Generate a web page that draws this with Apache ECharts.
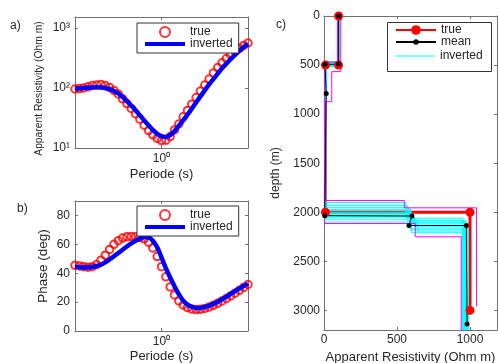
<!DOCTYPE html>
<html>
<head>
<meta charset="utf-8">
<script src="https://cdn.jsdelivr.net/npm/echarts@6/dist/echarts.min.js"></script>
<style>
html, body { margin: 0; padding: 0; background: #fff; }
#chart { width: 498px; height: 363px; }
</style>
</head>
<body>
<div id="chart"></div>
<script>
/* MT sounding: apparent resistivity, phase and the 1D models */

// periods, as log10 of seconds
var logPeriod = [-1.00, -0.95, -0.90, -0.85, -0.80, -0.75, -0.70, -0.65, -0.60, -0.55,
                 -0.50, -0.45, -0.40, -0.35, -0.30, -0.25, -0.20, -0.15, -0.10, -0.05,
                  0.00,  0.05,  0.10,  0.15,  0.20,  0.25,  0.30,  0.35,  0.40,  0.45,
                  0.50,  0.55,  0.60,  0.65,  0.70,  0.75,  0.80,  0.85,  0.90,  0.95, 1.00];

// apparent resistivity (Ohm m)
var rhoTrue = [96.2, 97.7, 100, 104.7, 109.6, 112.2, 114.8, 109.6, 102.3, 91.2,
               79.4, 66.1, 55.0, 45.7, 37.2, 30.2, 24.0, 19.5, 16.6, 14.5,
               13.3, 13.5, 15.5, 20.0, 25.1, 33.1, 42.2, 53.7, 69.2, 89.1,
               112, 141, 178, 219, 263, 309, 355, 407, 457, 513, 562];
var rhoInv = [97.7, 98.9, 100, 101, 102, 103, 102, 100, 95.5, 89.1,
              81.3, 70.8, 60.3, 50.7, 42.7, 35.1, 28.8, 24.0, 20.0, 17.2,
              15.7, 15.3, 16.4, 19.1, 23.4, 28.8, 35.9, 45.2, 57.5, 72.4,
              91.2, 115, 141, 174, 214, 254, 302, 355, 417, 479, 543];

// phase (deg)
var phaseTrue = [45.5, 45.0, 44.5, 44.2, 44.5, 46.0, 49.0, 52.5, 56.5, 60.0,
                 62.5, 64.3, 65.2, 65.5, 65.3, 64.8, 63.8, 61.5, 57.5, 51.5,
                 44.5, 37.5, 30.5, 25.0, 20.8, 18.0, 16.2, 15.2, 14.8, 15.0,
                 15.6, 16.6, 17.8, 19.2, 20.8, 22.5, 24.3, 26.2, 28.2, 30.2, 32.2];
var phaseInv = [44.5, 44.2, 44.0, 44.0, 44.3, 45.0, 46.0, 47.5, 49.5, 51.7,
                54.0, 56.3, 58.5, 60.6, 62.5, 64.0, 65.0, 64.8, 62.5, 58.0,
                51.0, 43.5, 37.0, 31.0, 25.5, 21.0, 18.3, 16.8, 16.0, 16.0,
                16.6, 17.6, 18.8, 20.3, 22.0, 23.8, 25.7, 27.6, 29.5, 31.2, 32.8];

// layered models: resistivity of each layer, depth of each interface (m)
var trueRho = [100, 10, 1000];
var trueDepth = [500, 2000];
var trueBottom = 3000;

var meanRho = [100, 100, 7, 15, 5, 602, 582, 975, 980];
var meanDepth = [0, 490, 495, 790, 2035, 2038, 2135, 2135, 3140];

var invRho = [
    [100, 12, 8, 600, 970],
    [98, 6, 10, 580, 960],
    [104, 15, 5, 620, 985],
    [96, 9, 12, 560, 950],
    [102, 4, 7, 640, 975],
    [100, 18, 9, 610, 965],
    [95, 8, 6, 590, 990],
    [105, 11, 14, 630, 955],
    [99, 5, 11, 570, 980],
    [101, 13, 4, 600, 945],
    [97, 7, 10, 615, 970],
    [103, 10, 8, 595, 960]
];
var invDepth = [
    [480, 780, 2000, 2100],
    [470, 800, 1950, 2080],
    [510, 760, 2050, 2150],
    [495, 820, 1900, 2060],
    [505, 740, 2100, 2200],
    [475, 850, 2020, 2120],
    [500, 700, 1980, 2170],
    [485, 830, 2070, 2140],
    [515, 790, 1930, 2090],
    [465, 810, 2010, 2210],
    [490, 770, 2040, 2110],
    [500, 860, 1970, 2180]
];
var invBottom = 3200;

var boundRho = [[115, 53, 12, 550, 1045], [92, 3, 625, 940]];
var boundDepth = [[567, 873, 1880, 1955], [470, 2115, 2250]];
var boundBottom = [2960, 3200];

var FONT = 'Liberation Sans';
var TXT = '#262626';
var AX = '#707070';
var SUP = {'0': '\u2070', '1': '\u00b9', '2': '\u00b2', '3': '\u00b3'};

function pairs(xs, ys, fy) {
    var out = [];
    for (var i = 0; i < xs.length; i++) {
        out.push([xs[i], fy ? fy(ys[i]) : ys[i]]);
    }
    return out;
}

function stepPath(rho, depth, bottom) {
    var pts = [[rho[0], 0]];
    for (var i = 0; i < depth.length; i++) {
        pts.push([rho[i], depth[i]]);
        pts.push([rho[i + 1], depth[i]]);
    }
    pts.push([rho[rho.length - 1], bottom]);
    return pts;
}

function powLabel(v) {
    if (Math.abs(v - Math.round(v)) > 1e-6) return '';
    return '10' + SUP[String(Math.round(v))];
}

function nameStyle(size, pad) {
    var s = { color: TXT, fontFamily: FONT, fontSize: size };
    if (pad) s.padding = pad;
    return s;
}

function mainAxis(gi, pos, o) {
    var a = {
        type: 'value', gridIndex: gi, position: pos,
        axisLine: { show: true, onZero: false, lineStyle: { color: AX, width: 1 } },
        axisTick: { show: true, inside: true, length: 3, lineStyle: { color: AX } },
        splitLine: { show: false },
        axisLabel: { color: TXT, fontFamily: FONT, fontSize: 12, margin: 5 },
        nameTextStyle: nameStyle(12),
        nameLocation: 'middle'
    };
    for (var k in o) a[k] = o[k];
    return a;
}

function boxAxis(gi, pos, o) {
    var a = mainAxis(gi, pos, o);
    a.axisLabel = { show: false };
    a.name = '';
    return a;
}

function lbl(margin, fmt) {
    return { color: TXT, fontFamily: FONT, fontSize: 12, margin: margin, formatter: fmt };
}

var chart = echarts.init(document.getElementById('chart'));

var periodFmt = function (v) { return Math.abs(v) < 1e-6 ? '10' + SUP['0'] : ''; };
var xa = { min: -1, max: 1, interval: 1, axisLabel: lbl(5, periodFmt) };
var xb = { min: -1, max: 1, interval: 1, axisLabel: lbl(5, periodFmt) };
var ya = { min: 1, max: 3.183, interval: 1, axisLabel: lbl(5, powLabel) };
var yb = { min: 0, max: 90, interval: 20, axisLabel: lbl(5, function (v) { return v % 20 === 0 ? String(v) : ''; }) };
var xc = { min: 0, max: 1185, interval: 500, axisLabel: lbl(4, function (v) { return v % 500 === 0 ? String(v) : ''; }) };
var yc = { min: 0, max: 3200, interval: 500, inverse: true, axisLabel: lbl(4, function (v) { return v % 500 === 0 ? String(v) : ''; }) };

function legend(o) {
    var l = {
        orient: 'vertical', selectedMode: false,
        itemWidth: 40, itemHeight: 10, itemGap: 0,
        padding: [3, 6, 3, 8],
        borderColor: '#333', borderWidth: 1, backgroundColor: '#fff',
        textStyle: { color: TXT, fontFamily: FONT, fontSize: 12 },
        formatter: function (n) { return n.trim(); }
    };
    for (var k in o) l[k] = o[k];
    return l;
}

var series = [];
function log10(v) { return Math.log10(v); }

// panel a
series.push({ name: 'true', type: 'scatter', xAxisIndex: 0, yAxisIndex: 0, data: pairs(logPeriod, rhoTrue, log10),
    symbol: 'circle', symbolSize: 7.5, itemStyle: { color: 'rgba(0,0,0,0)', borderColor: '#ff0000', borderWidth: 2 } });
series.push({ name: 'inverted', type: 'line', xAxisIndex: 0, yAxisIndex: 0, data: pairs(logPeriod, rhoInv, log10),
    symbol: 'none', smooth: 0.3, lineStyle: { color: '#0000ff', width: 4.5 }, itemStyle: { color: '#0000ff' } });
// panel b
series.push({ name: 'true', type: 'scatter', xAxisIndex: 1, yAxisIndex: 1, data: pairs(logPeriod, phaseTrue),
    symbol: 'circle', symbolSize: 7.5, itemStyle: { color: 'rgba(0,0,0,0)', borderColor: '#ff0000', borderWidth: 2 } });
series.push({ name: 'inverted', type: 'line', xAxisIndex: 1, yAxisIndex: 1, data: pairs(logPeriod, phaseInv),
    symbol: 'none', smooth: 0.3, lineStyle: { color: '#0000ff', width: 4.5 }, itemStyle: { color: '#0000ff' } });
// panel c
series.push({ name: 'true ', type: 'line', xAxisIndex: 2, yAxisIndex: 2, data: stepPath(trueRho, trueDepth, trueBottom),
    symbol: 'circle', symbolSize: 9, showSymbol: true, lineStyle: { color: '#ff0000', width: 3 }, itemStyle: { color: '#ff0000' } });
for (var i = 0; i < invRho.length; i++) {
    series.push({ name: 'inverted ', type: 'line', xAxisIndex: 2, yAxisIndex: 2, data: stepPath(invRho[i], invDepth[i], invBottom),
        symbol: 'none', lineStyle: { color: '#00ffff', width: 1 }, itemStyle: { color: '#00ffff' } });
}
for (var b = 0; b < boundRho.length; b++) {
    series.push({ name: 'bound', type: 'line', xAxisIndex: 2, yAxisIndex: 2, data: stepPath(boundRho[b], boundDepth[b], boundBottom[b]),
        symbol: 'none', lineStyle: { color: '#ff00ff', width: 1 } });
}
series.push({ name: 'mean', type: 'line', xAxisIndex: 2, yAxisIndex: 2, data: pairs(meanRho, meanDepth),
    symbol: 'circle', symbolSize: 5, showSymbol: true, lineStyle: { color: '#000000', width: 1 }, itemStyle: { color: '#000000' } });

var blueIcon = 'path://M0,0H40V4H0Z';
var cyanIcon = 'path://M0,0H40V1.2H0Z';

var option = {
    animation: false,
    backgroundColor: '#fff',
    grid: [
        { left: 75, top: 17, width: 173, height: 131, outerBoundsMode: 'none' },
        { left: 75, top: 201, width: 173, height: 130, outerBoundsMode: 'none' },
        { left: 324, top: 16, width: 173, height: 314, outerBoundsMode: 'none' }
    ],
    xAxis: [
        mainAxis(0, 'bottom', Object.assign({ name: 'Periode (s)', nameGap: 20, nameTextStyle: nameStyle(13) }, xa)),
        mainAxis(1, 'bottom', Object.assign({ name: 'Periode (s)', nameGap: 19, nameTextStyle: nameStyle(13) }, xb)),
        mainAxis(2, 'bottom', Object.assign({ name: 'Apparent Resistivity (Ohm m)', nameGap: 13, nameTextStyle: nameStyle(13) }, xc)),
        boxAxis(0, 'top', xa), boxAxis(1, 'top', xb), boxAxis(2, 'top', xc)
    ],
    yAxis: [
        mainAxis(0, 'left', Object.assign({ name: 'Apparent Resistivity (Ohm m)', nameGap: 31, nameTextStyle: nameStyle(10.3, [0, 12, 0, 0]) }, ya)),
        mainAxis(1, 'left', Object.assign({ name: 'Phase (deg)', nameGap: 25, nameTextStyle: nameStyle(13.5) }, yb)),
        mainAxis(2, 'left', Object.assign({ name: 'depth (m)', nameGap: 42, nameTextStyle: nameStyle(12) }, yc)),
        boxAxis(0, 'right', ya), boxAxis(1, 'right', yb), boxAxis(2, 'right', yc)
    ],
    legend: [
        legend({ left: 137, top: 23, data: ['true', { name: 'inverted', icon: blueIcon }] }),
        legend({ left: 137, top: 206, data: ['true', { name: 'inverted', icon: blueIcon }] }),
        legend({ left: 395, top: 24, padding: 0, borderWidth: 0, backgroundColor: 'transparent', itemHeight: 12, data: ['true '] }),
        legend({ left: 395, top: 36, padding: 0, borderWidth: 0, backgroundColor: 'transparent', itemHeight: 7, data: ['mean'] }),
        legend({ left: 395, top: 50, padding: 0, borderWidth: 0, backgroundColor: 'transparent', data: [{ name: 'inverted ', icon: cyanIcon }] })
    ],
    graphic: [
        { type: 'rect', z: 3, shape: { x: 387.5, y: 22.5, width: 104, height: 49 }, style: { fill: '#fff', stroke: '#333', lineWidth: 1 } },
        { type: 'text', left: 10, top: 20, style: { text: 'a)', font: '12px "Liberation Sans"', fill: TXT } },
        { type: 'text', left: 17, top: 203, style: { text: 'b)', font: '12px "Liberation Sans"', fill: TXT } },
        { type: 'text', left: 276, top: 19, style: { text: 'c)', font: '12px "Liberation Sans"', fill: TXT } }
    ],
    series: series
};
chart.setOption(option);
</script>
</body>
</html>
